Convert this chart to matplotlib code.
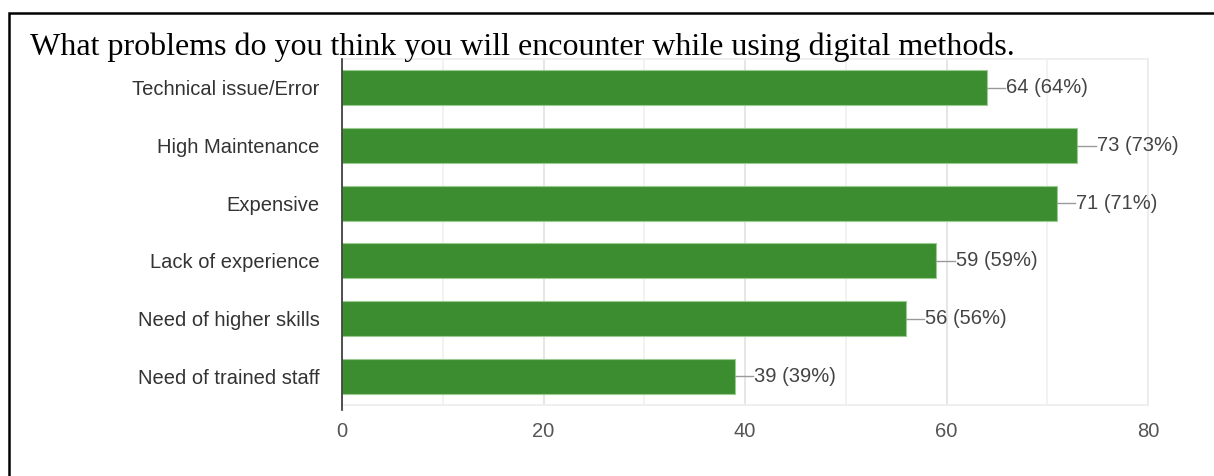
import matplotlib.pyplot as plt
from matplotlib.patches import Rectangle

# Survey answers (100 respondents)
categories = ['Technical issue/Error', 'High Maintenance', 'Expensive',
              'Lack of experience', 'Need of higher skills', 'Need of trained staff']
counts = [64, 73, 71, 59, 56, 39]
percents = [64, 73, 71, 59, 56, 39]
xticks = [0, 20, 40, 60, 80]
minor_xticks = [10, 30, 50, 70]

title = 'What problems do you think you will encounter while using digital methods.'

fig = plt.figure(figsize=(12.14, 4.76), dpi=100)
ax = fig.add_axes([342 / 1214, 71 / 476, 806 / 1214, 346 / 476])

ypos = list(range(len(categories)))
ax.barh(ypos, counts, height=0.61, color='#3b8d2f', edgecolor='#9ccb91',
        linewidth=0.8, zorder=3)

# value labels with small leader lines
for y, c, p in zip(ypos, counts, percents):
    ax.plot([c, c + 1.8], [y, y], color='#9a9a9a', lw=1, zorder=3, clip_on=False)
    ax.text(c + 1.9, y, f'{c} ({p}%)', va='center', ha='left',
            fontsize=14.5, color='#444444', family='Liberation Sans')

ax.set_xlim(0, 80)
ax.set_ylim(len(categories) - 0.5, -0.5)
ax.set_yticks(ypos)
ax.set_yticklabels(categories, fontsize=14.5, color='#333333', family='Liberation Sans')
ax.set_xticks(xticks)
ax.set_xticklabels([str(t) for t in xticks], fontsize=14.5, color='#555555',
                   family='Liberation Sans')
ax.set_xticks(minor_xticks, minor=True)
ax.tick_params(axis='y', length=0, pad=16)
ax.tick_params(axis='x', which='both', length=0, pad=12)

ax.grid(axis='x', which='major', color='#e2e2e2', lw=1.2, zorder=0)
ax.grid(axis='x', which='minor', color='#f0f0f0', lw=1.2, zorder=0)
for side in ['top', 'right', 'bottom']:
    ax.spines[side].set_color('#ececec')
    ax.spines[side].set_linewidth(1.2)
ax.spines['left'].set_visible(False)
ax.axvline(0, ymin=-0.015, ymax=1, color='#333333', lw=1.2, zorder=4, clip_on=False)

fig.text(30 / 1214, 1 - 55 / 476, title, fontsize=23, family='Liberation Serif',
         color='black', ha='left', va='baseline')

# black frame around the figure, open to the right and bottom
fig.patches.append(Rectangle((9 / 1214, -0.1), 1.1, 1.1 - 13 / 476,
                             transform=fig.transFigure, fill=False,
                             edgecolor='black', lw=1.8))

fig.savefig('out.png', dpi=100)
